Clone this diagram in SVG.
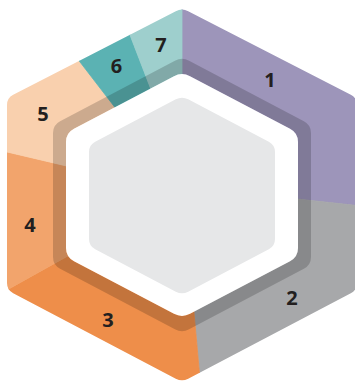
<svg xmlns="http://www.w3.org/2000/svg" width="355" height="390" viewBox="0 0 355 390">
<style>
.seg{clip-path:url(#outer);stroke-width:0.8;stroke-linejoin:round}
.lbl{font-family:"Open Sans","Liberation Sans",sans-serif;font-weight:700;font-size:20px;fill:#231f20;text-anchor:middle}
</style>
<defs>
<clipPath id="outer">
<path d="M188.2,11.2 L350.8,94.8 Q357,98 357,105 L357,283 Q357,290 350.8,293.3 L188.2,378.7 Q182,382 175.8,378.7 L13.2,293.3 Q7,290 7,283 L7,105 Q7,98 13.2,94.8 L175.8,11.2 Q182,8 188.2,11.2 Z"/>
</clipPath>
</defs>
<rect width="355" height="390" fill="#ffffff"/>
<g id="seg1">
<polygon class="seg" fill="#9d95ba" stroke="#9d95ba" points="182,195 182,80 182,-20 400,-20 380,208 288,198"/>
<text class="lbl" x="270" y="87">1</text>
</g>
<g id="seg2">
<polygon class="seg" fill="#a7a8aa" stroke="#a7a8aa" points="182,195 288,198 380,208 400,420 201.9,400 193.3,305"/>
<text class="lbl" x="292" y="305">2</text>
</g>
<g id="seg3">
<polygon class="seg" fill="#ee8e4a" stroke="#ee8e4a" points="182,195 193.3,305 201.9,400 -20,420 -20,305 75,252"/>
<text class="lbl" x="108" y="327">3</text>
</g>
<g id="seg4">
<polygon class="seg" fill="#f2a46c" stroke="#f2a46c" points="182,195 75,252 -20,305 -20,145.6 75,168"/>
<text class="lbl" x="30" y="232">4</text>
</g>
<g id="seg5">
<polygon class="seg" fill="#f9d0ae" stroke="#f9d0ae" points="182,195 75,168 -20,145.6 -20,-20 40,10 120,114"/>
<text class="lbl" x="43" y="121">5</text>
</g>
<g id="seg6">
<polygon class="seg" fill="#5bb2b3" stroke="#5bb2b3" points="182,195 120,114 40,10 115,-4 153,94.8"/>
<text class="lbl" x="116.5" y="72.5">6</text>
</g>
<g id="seg7">
<polygon class="seg" fill="#9ecfcd" stroke="#9ecfcd" points="182,195 153,94.8 115,-4 182,-20 182,80"/>
<text class="lbl" x="161" y="52">7</text>
</g>
<g id="band">
<path fill="#000000" fill-opacity="0.18" fill-rule="evenodd" d="M189.1,60.7 L303.9,121.3 Q311,125 311,133 L311,257 Q311,265 303.9,268.7 L189.1,329.3 Q182,333 174.9,329.3 L60.1,268.7 Q53,265 53,257 L53,133 Q53,125 60.1,121.3 L174.9,60.7 Q182,57 189.1,60.7 Z M190,76.2 L290,128.8 Q298,133 298,142 L298,248 Q298,257 290,261.2 L190,313.8 Q182,318 174,313.8 L74,261.2 Q66,257 66,248 L66,142 Q66,133 74,128.8 L174,76.2 Q182,72 190,76.2 Z"/>
</g>
<g id="hole">
<path fill="#ffffff" d="M190,76.2 L290,128.8 Q298,133 298,142 L298,248 Q298,257 290,261.2 L190,313.8 Q182,318 174,313.8 L74,261.2 Q66,257 66,248 L66,142 Q66,133 74,128.8 L174,76.2 Q182,72 190,76.2 Z"/>
</g>
<g id="center">
<path fill="#e6e7e8" d="M188.2,99.3 L268.8,141.7 Q275,145 275,152 L275,239 Q275,246 268.8,249.3 L188.2,291.7 Q182,295 175.8,291.7 L95.2,249.3 Q89,246 89,239 L89,152 Q89,145 95.2,141.7 L175.8,99.3 Q182,96 188.2,99.3 Z"/>
</g>
</svg>
